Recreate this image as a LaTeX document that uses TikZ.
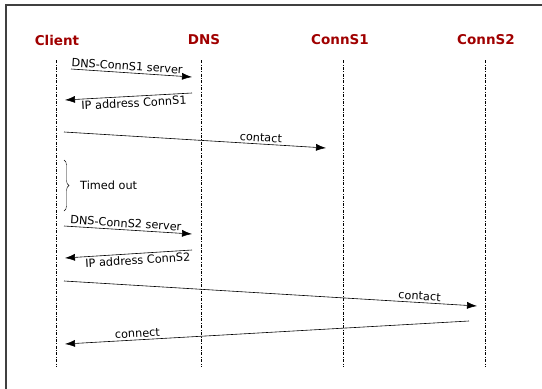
\documentclass[tikz,border=0pt]{standalone}
\usepackage{fontspec}
\setmainfont{DejaVu Sans}
\usetikzlibrary{arrows.meta,positioning,decorations.pathreplacing}
\definecolor{headred}{HTML}{A00000}
\tikzset{
  head/.style  = {font=\fontsize{13.5}{16}\selectfont\bfseries, text=headred},
  life/.style  = {thin, dash pattern=on 3pt off 1.5pt on 0.8pt off 1.5pt},
  msg/.style   = {-{Latex[length=10pt,width=7pt]}, semithick},
  msgtext/.style = {font=\fontsize{11.3}{13}\selectfont, sloped, inner sep=2pt}
}

\begin{document}
\begin{tikzpicture}[x=1pt, y=-1pt]
\useasboundingbox (0,0) rectangle (542,389);

% frame, only top and left edge are visible
\draw[line width=1.5pt, black!75] (6,389) -- (6,5) -- (542,5);

% the four parties
\node[head] (client) at (57,40)  {Client};
\node[head] (dns)    at (204,40) {DNS};
\node[head] (conns1) at (340,40) {ConnS1};
\node[head] (conns2) at (486,40) {ConnS2};

% lifelines
\foreach \name/\x in {client/56, dns/201, conns1/343, conns2/485} {
  \coordinate (\name top) at (\x,60);
  \coordinate (\name bot) at (\x,367);
  \draw[life] (\name top) -- (\name bot);
}

% end points of the messages
\foreach \i/\xa/\ya/\xb/\yb in {1/71/69/192/77, 2/192/93/65/100,
    3/64/132/326/148, 5/64/226/192/234, 6/192/250/65/258,
    7/64/281/477/306, 8/469/321/65/344} {
  \coordinate (s\i) at (\xa,\ya);
  \coordinate (e\i) at (\xb,\yb);
}

% first attempt, via ConnS1
\draw[msg] (s1) -- node[msgtext, above, pos=.46] {DNS-ConnS1 server} (e1);
\draw[msg] (s2) -- node[msgtext, below, pos=.46] {IP address ConnS1} (e2);
\draw[msg] (s3) -- node[msgtext, above, pos=.75] {contact} (e3);

% no answer
\draw[decorate, decoration={brace, amplitude=5pt}] (64,160) -- (64,211);
\node[msgtext, anchor=west] (timeout) at (78,185) {Timed out};

% second attempt, via ConnS2
\draw[msg] (s5) -- node[msgtext, above, pos=.48] {DNS-ConnS2 server} (e5);
\draw[msg] (s6) -- node[msgtext, below, pos=.43] {IP address ConnS2} (e6);
\draw[msg] (s7) -- node[msgtext, above, pos=.86] {contact} (e7);
\draw[msg] (s8) -- node[msgtext, above, pos=.82] {connect} (e8);
\end{tikzpicture}
\end{document}
